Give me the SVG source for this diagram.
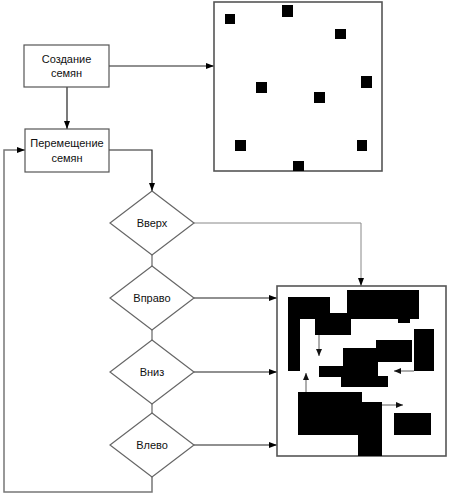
<svg xmlns="http://www.w3.org/2000/svg" width="450" height="497" viewBox="0 0 450 497">
<defs>
<marker id="ah" markerWidth="8" markerHeight="6" refX="8" refY="3" orient="auto" markerUnits="userSpaceOnUse"><path d="M0,0 L8,3 L0,6 Z" fill="#000"/></marker>
<marker id="ahs" markerWidth="7" markerHeight="6" refX="7" refY="3" orient="auto" markerUnits="userSpaceOnUse"><path d="M0,0 L7,3 L0,6 Z" fill="#111"/></marker>
<style>
.box{fill:#fff;stroke:#555;stroke-width:1.2}
.frame{fill:#fff;stroke:#555;stroke-width:1.6}
.dia{fill:#fff;stroke:#666;stroke-width:1.2}
.t{font-family:"Liberation Sans",Arial,sans-serif;font-size:11px;fill:#111;text-anchor:middle}
.c{fill:none;stroke:#222;stroke-width:1.2}
.g{fill:none;stroke:#888;stroke-width:1}
.thin{fill:none;stroke:#333;stroke-width:0.8}
.blk{fill:#000}
</style>
</defs>
<g id="connectors">
<path class="c" d="M109,66 H214" marker-end="url(#ah)"/>
<path class="c" d="M67,87 V129" marker-end="url(#ah)"/>
<path class="c" d="M109,150 H152 V191" marker-end="url(#ah)"/>
<path class="g" d="M152,477 V492 H4 V150 H25" marker-end="url(#ah)" style="stroke:#777;stroke-width:1.5"/>
<path class="g" d="M194,223 H361 V286" marker-end="url(#ah)"/>
<path class="g" d="M152,255 V266 M152,330 V340 M152,404 V413" style="stroke:#666;stroke-width:1.2"/>
<path class="c" d="M194,298 H277" marker-end="url(#ah)"/>
<path class="c" d="M194,372 H277" marker-end="url(#ah)"/>
<path class="c" d="M194,445 H277" marker-end="url(#ah)"/>
</g>
<g id="create">
<rect class="box" x="24" y="45" width="85" height="42"/>
<text class="t" x="66.5" y="63">Создание</text>
<text class="t" x="66.5" y="77">семян</text>
</g>
<g id="move">
<rect class="box" x="25" y="129" width="84" height="43"/>
<text class="t" x="67" y="147">Перемещение</text>
<text class="t" x="67" y="162">семян</text>
</g>
<g id="seeds">
<rect class="frame" x="214" y="2" width="168" height="169"/>
<rect class="blk" x="225" y="14" width="10" height="10"/>
<rect class="blk" x="282" y="5" width="11" height="12"/>
<rect class="blk" x="335" y="29" width="11" height="10"/>
<rect class="blk" x="256" y="82" width="11" height="11"/>
<rect class="blk" x="361" y="76" width="11" height="12"/>
<rect class="blk" x="314" y="92" width="11" height="11"/>
<rect class="blk" x="235" y="140" width="11" height="11"/>
<rect class="blk" x="357" y="140" width="10" height="11"/>
<rect class="blk" x="293" y="161" width="11" height="10"/>
</g>
<g id="up">
<polygon class="dia" points="152,191 194,223 152,255 110,223"/>
<text class="t" x="152" y="227">Вверх</text>
</g>
<g id="right">
<polygon class="dia" points="152,266 194,298 152,330 110,298"/>
<text class="t" x="152" y="302">Вправо</text>
</g>
<g id="down">
<polygon class="dia" points="152,340 194,372 152,404 110,372"/>
<text class="t" x="152" y="376">Вниз</text>
</g>
<g id="left">
<polygon class="dia" points="152,413 194,445 152,477 110,445"/>
<text class="t" x="152" y="449">Влево</text>
</g>
<g id="result">
<rect class="frame" x="277" y="286" width="169" height="170"/>
<rect class="blk" x="288" y="297" width="12" height="74"/>
<rect class="blk" x="288" y="297" width="42" height="22"/>
<rect class="blk" x="315" y="313" width="36" height="22"/>
<rect class="blk" x="347" y="290" width="72" height="29"/>
<rect class="blk" x="398" y="318" width="12" height="5"/>
<rect class="blk" x="414" y="329" width="20" height="42"/>
<rect class="blk" x="376" y="340" width="36" height="22"/>
<rect class="blk" x="343" y="348" width="35" height="29"/>
<rect class="blk" x="319" y="366" width="25" height="11"/>
<rect class="blk" x="341" y="376" width="47" height="11"/>
<rect class="blk" x="298" y="392" width="64" height="43"/>
<rect class="blk" x="358" y="402" width="24" height="54"/>
<rect class="blk" x="394" y="413" width="37" height="22"/>
<path class="thin" d="M319,335 V356" marker-end="url(#ahs)"/>
<path class="thin" d="M306,392 V373" marker-end="url(#ahs)"/>
<path class="thin" d="M414,371 H394" marker-end="url(#ahs)"/>
<path class="thin" d="M382,405 H403" marker-end="url(#ahs)"/>
</g>
</svg>
